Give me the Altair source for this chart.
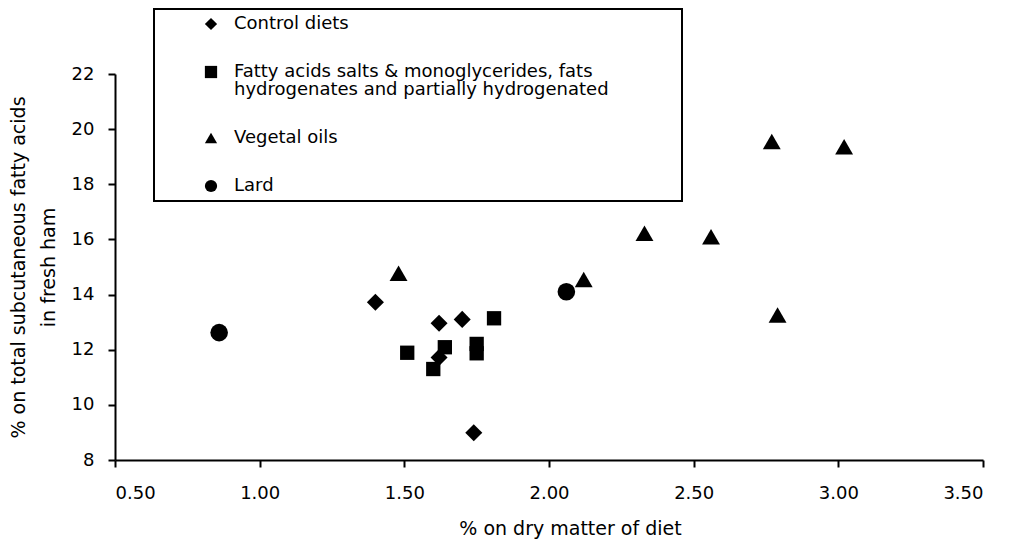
import altair as alt
import pandas as pd

groups = [
    "Control diets",
    "Fatty acids salts & monoglycerides, fats hydrogenates and partially hydrogenated",
    "Vegetal oils",
    "Lard",
]
shapes = ["diamond", "square", "triangle-up", "circle"]
marker_sizes = [290, 205, 320, 310]

control_x = [1.40, 1.62, 1.70, 1.62, 1.74]
control_y = [13.72, 12.96, 13.10, 11.72, 8.99]
fatty_x = [1.51, 1.64, 1.60, 1.75, 1.75, 1.81]
fatty_y = [11.89, 12.09, 11.30, 12.21, 11.87, 13.14]
vegetal_x = [1.48, 2.12, 2.33, 2.56, 2.77, 3.02, 2.79]
vegetal_y = [14.77, 14.55, 16.22, 16.10, 19.55, 19.36, 13.26]
lard_x = [0.86, 2.06]
lard_y = [12.62, 14.10]

x_ticks = [0.5, 1.0, 1.5, 2.0, 2.5, 3.0, 3.5]
y_ticks = [8, 10, 12, 14, 16, 18, 20, 22]

rows = []
for g, xs, ys in zip(groups, [control_x, fatty_x, vegetal_x, lard_x],
                     [control_y, fatty_y, vegetal_y, lard_y]):
    for xv, yv in zip(xs, ys):
        rows.append({"group": g, "x": xv, "y": yv})
df = pd.DataFrame(rows)

FONT = "DejaVu Sans"

x_enc = alt.X(
    "x:Q",
    scale=alt.Scale(domain=[0.5, 3.5], nice=False, zero=False),
    axis=alt.Axis(
        values=x_ticks, format=".2f", title="% on dry matter of diet",
        titleX=455, titleY=74, titleAlign="center", titleBaseline="alphabetic",
        labelPadding=17,
    ),
)
y_enc = alt.Y(
    "y:Q",
    scale=alt.Scale(domain=[8, 22], nice=False, zero=False),
    axis=alt.Axis(
        values=y_ticks, format="d",
        title=["% on total subcutaneous fatty acids", "in fresh ham"],
        titleX=-91, titleY=193, titleAngle=270, titleAlign="center",
        titleBaseline="alphabetic", titleLineHeight=30, labelPadding=14,
    ),
)
shape_enc = alt.Shape(
    "group:N",
    scale=alt.Scale(domain=groups, range=shapes),
    legend=alt.Legend(
        # an invisible title on the right only widens the legend frame
        title=".", titleOrient="right", titlePadding=64, titleOpacity=0,
        titleFontSize=8,
        orient="none", legendX=39, legendY=-65,
        strokeColor="black", padding=6, rowPadding=30,
        symbolOffset=42, labelOffset=14, labelLimit=900,
        labelFont=FONT, labelFontSize=18, labelColor="black",
        symbolSize=150, symbolFillColor="black", symbolStrokeWidth=0,
        labelExpr="split(replace(datum.label, 'fats hydrogenates', 'fats|hydrogenates'), '|')",
    ),
)

layers = []
for g, s in zip(groups, marker_sizes):
    layers.append(
        alt.Chart(df)
        .transform_filter(alt.datum.group == g)
        .mark_point(filled=True, color="black", opacity=1, strokeWidth=0, size=s)
        .encode(x=x_enc, y=y_enc, shape=shape_enc)
    )

chart = alt.layer(*layers).properties(
    width=868,
    height=386,
    padding={"left": 107, "top": 66, "right": 20, "bottom": 80},
    autosize=alt.AutoSizeParams(type="none"),
).configure(
    style={"guide-label": {"lineHeight": 18}},
).configure_axis(
    domainColor="black", domainWidth=2, tickColor="black", tickWidth=2,
    tickSize=7, grid=False, labelFont=FONT, labelFontSize=18,
    labelColor="black", titleFont=FONT, titleFontSize=19,
    titleFontWeight="normal", titleColor="black",
).configure_legend(
    strokeWidth=2,
).configure_view(strokeWidth=0)

chart.save("out.html", embed_options={"renderer": "svg", "actions": False})
